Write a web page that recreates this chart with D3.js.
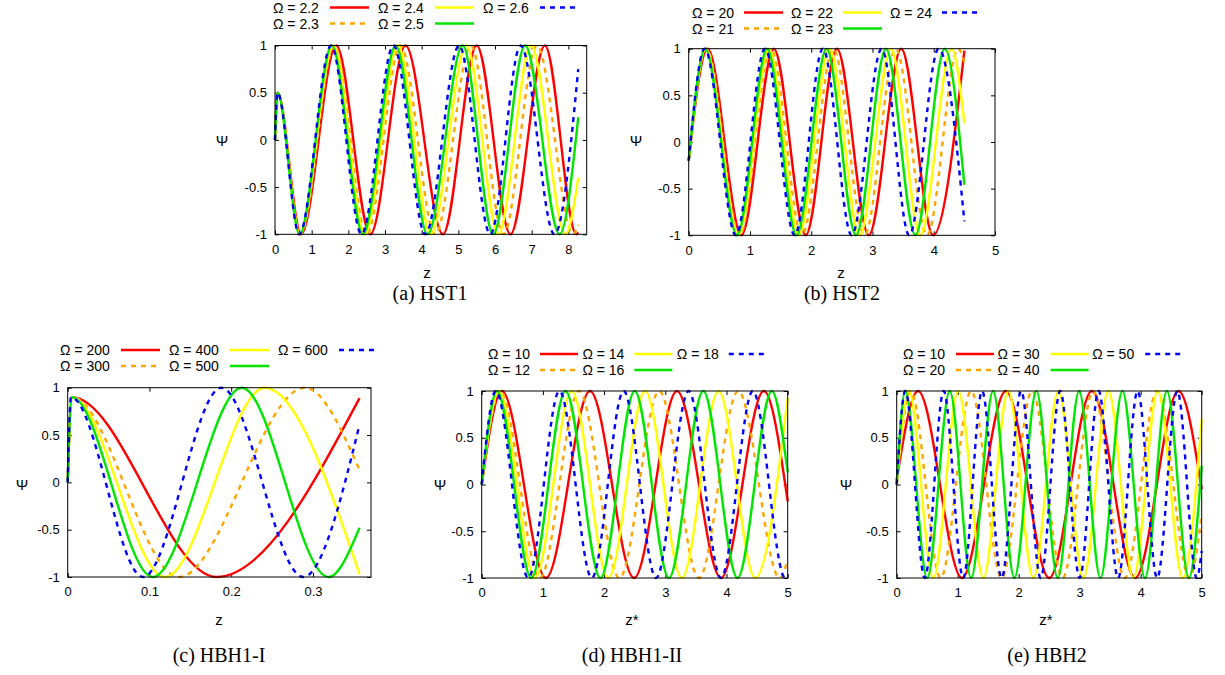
<!DOCTYPE html>
<html>
<head>
<meta charset="utf-8">
<script src="https://cdn.jsdelivr.net/npm/d3@7"></script>
<style>
  body { margin: 0; background: #fff; }
  svg { display: block; }
</style>
</head>
<body>
<svg id="fig" width="1225" height="675"></svg>
<script>
// Oscillating wave function Psi(z) for five frequencies per model.
// Each series lists its start, turning points (crests +1 / troughs -1) and end value.

const psiTicks = [-1, -0.5, 0, 0.5, 1];

// (a) HST1
const hst1Omega = ["2.2", "2.3", "2.4", "2.5", "2.6"];
const hst1ZTicks = [0, 1, 2, 3, 4, 5, 6, 7, 8];
const hst1Psi22 = [[0, 0], [0.07, 0.5], [0.71, -1], [1.67, 1], [2.60, -1], [3.56, 1], [4.58, -1], [5.50, 1], [6.42, -1], [7.36, 1], [8.22, -1], [8.27, -0.98]];
const hst1Psi23 = [[0, 0], [0.07, 0.5], [0.69, -1], [1.62, 1], [2.50, -1], [3.42, 1], [4.37, -1], [5.34, 1], [6.23, -1], [7.14, 1], [8.13, -1], [8.27, -0.9]];
const hst1Psi24 = [[0, 0], [0.07, 0.5], [0.68, -1], [1.59, 1], [2.45, -1], [3.35, 1], [4.25, -1], [5.22, 1], [6.09, -1], [6.98, 1], [7.92, -1], [8.27, -0.4]];
const hst1Psi25 = [[0, 0], [0.07, 0.5], [0.67, -1], [1.55, 1], [2.40, -1], [3.29, 1], [4.16, -1], [5.12, 1], [5.95, -1], [6.82, 1], [7.76, -1], [8.27, 0.24]];
const hst1Psi26 = [[0, 0], [0.07, 0.5], [0.66, -1], [1.53, 1], [2.36, -1], [3.23, 1], [4.10, -1], [5.02, 1], [5.87, -1], [6.70, 1], [7.62, -1], [8.27, 0.75]];

// (b) HST2
const hst2Omega = ["20", "21", "22", "23", "24"];
const hst2ZTicks = [0, 1, 2, 3, 4, 5];
const hst2Psi20 = [[0, -0.2], [0.31, 1], [0.86, -1], [1.39, 1], [1.91, -1], [2.42, 1], [2.94, -1], [3.47, 1], [3.99, -1], [4.5, 0.98]];
const hst2Psi21 = [[0, -0.2], [0.29, 1], [0.83, -1], [1.34, 1], [1.85, -1], [2.36, 1], [2.87, -1], [3.38, 1], [3.89, -1], [4.40, 1], [4.5, 0.85]];
const hst2Psi22 = [[0, -0.2], [0.28, 1], [0.81, -1], [1.31, 1], [1.80, -1], [2.30, 1], [2.79, -1], [3.30, 1], [3.78, -1], [4.29, 1], [4.5, 0.2]];
const hst2Psi23 = [[0, -0.2], [0.27, 1], [0.79, -1], [1.28, 1], [1.76, -1], [2.25, 1], [2.73, -1], [3.22, 1], [3.70, -1], [4.18, 1], [4.5, -0.46]];
const hst2Psi24 = [[0, -0.2], [0.26, 1], [0.77, -1], [1.245, 1], [1.73, -1], [2.19, 1], [2.66, -1], [3.15, 1], [3.60, -1], [4.08, 1], [4.5, -0.85]];

// (c) HBH1-I
const hbh1iOmega = ["200", "300", "400", "500", "600"];
const hbh1iZTicks = [0, 0.1, 0.2, 0.3];
const hbh1iPsi200 = [[0, 0], [0.005, 0.9], [0.182, -1], [0.357, 0.89]];
const hbh1iPsi300 = [[0, 0], [0.005, 0.9], [0.136, -1], [0.290, 1], [0.357, 0.13]];
const hbh1iPsi400 = [[0, 0], [0.005, 0.9], [0.119, -1], [0.241, 1], [0.357, -0.97]];
const hbh1iPsi500 = [[0, 0], [0.005, 0.9], [0.104, -1], [0.213, 1], [0.319, -1], [0.357, -0.48]];
const hbh1iPsi600 = [[0, 0], [0.004, 0.9], [0.092, -1], [0.188, 1], [0.288, -1], [0.357, 0.61]];

// (d) HBH1-II
const hbh1iiOmega = ["10", "12", "14", "16", "18"];
const hbh1iiZTicks = [0, 1, 2, 3, 4, 5];
const hbh1iiPsi10 = [[0, 0], [0.33, 1], [1.05, -1], [1.77, 1], [2.49, -1], [3.19, 1], [3.91, -1], [4.61, 1], [5, -0.18]];
const hbh1iiPsi12 = [[0, 0], [0.30, 1], [0.95, -1], [1.59, 1], [2.25, -1], [2.90, 1], [3.55, -1], [4.19, 1], [4.87, -1], [5, -0.8]];
const hbh1iiPsi14 = [[0, 0], [0.28, 1], [0.87, -1], [1.47, 1], [2.07, -1], [2.67, 1], [3.27, -1], [3.87, 1], [4.47, -1], [5, 0.93]];
const hbh1iiPsi16 = [[0, 0], [0.25, 1], [0.81, -1], [1.37, 1], [1.94, -1], [2.50, 1], [3.06, -1], [3.62, 1], [4.18, -1], [4.74, 1], [5, 0.13]];
const hbh1iiPsi18 = [[0, 0], [0.23, 1], [0.76, -1], [1.27, 1], [1.80, -1], [2.32, 1], [2.85, -1], [3.38, 1], [3.91, -1], [4.43, 1], [4.96, -1], [5, -0.98]];

// (e) HBH2
const hbh2Omega = ["10", "20", "30", "40", "50"];
const hbh2ZTicks = [0, 1, 2, 3, 4, 5];
const hbh2Psi10 = [[0, 0.05], [0.35, 1], [1.07, -1], [1.79, 1], [2.50, -1], [3.20, 1], [3.91, -1], [4.62, 1], [5, -0.05]];
const hbh2Psi20 = [[0, 0], [0.23, 1], [0.72, -1], [1.22, 1], [1.72, -1], [2.22, 1], [2.72, -1], [3.22, 1], [3.74, -1], [4.27, 1], [4.80, -1], [5, -0.31]];
const hbh2Psi30 = [[0, 0], [0.20, 1], [0.60, -1], [1.01, 1], [1.42, -1], [1.83, 1], [2.24, -1], [2.65, 1], [3.06, -1], [3.47, 1], [3.88, -1], [4.28, 1], [4.69, -1], [5, 0.7]];
const hbh2Psi40 = [[0, 0], [0.14, 1], [0.50, -1], [0.87, 1], [1.22, -1], [1.58, 1], [1.93, -1], [2.29, 1], [2.64, -1], [2.99, 1], [3.34, -1], [3.70, 1], [4.07, -1], [4.43, 1], [4.79, -1], [5, 0.2]];
const hbh2Psi50 = [[0, 0], [0.14, 1], [0.46, -1], [0.77, 1], [1.09, -1], [1.40, 1], [1.72, -1], [2.04, 1], [2.36, -1], [2.68, 1], [3.00, -1], [3.31, 1], [3.63, -1], [3.95, 1], [4.27, -1], [4.60, 1], [4.92, -1], [5, -0.71]];

// Line styles, in order of increasing frequency
const lineColors = ["#ff0000", "#ffa500", "#ffff00", "#00e600", "#0000ff"];
const lineDashes = [null, "5,5", null, null, "5,5"];

const svg = d3.select("#fig");
const SANS = "'Liberation Sans', Arial, Helvetica, sans-serif";
const SERIF = "'Liberation Serif', 'Times New Roman', serif";

const panels = [
  {
    caption: "(a) HST1", xLabel: "z", omega: hst1Omega, zTicks: hst1ZTicks, zMax: 8.5,
    series: [hst1Psi22, hst1Psi23, hst1Psi24, hst1Psi25, hst1Psi26],
    box: { left: 275, right: 586.7, top: 45.5, bottom: 234.3 },
    psiPos: [222, 140], zPos: [427, 272], capPos: [430, 293],
    legend: { x: 273, y: 7.5, dy: 16, col: 105, lineOff: 57, lineLen: 39 }
  },
  {
    caption: "(b) HST2", xLabel: "z", omega: hst2Omega, zTicks: hst2ZTicks, zMax: 5,
    series: [hst2Psi20, hst2Psi21, hst2Psi22, hst2Psi23, hst2Psi24],
    box: { left: 688.7, right: 995, top: 48.7, bottom: 235.3 },
    psiPos: [636, 140], zPos: [841, 272], capPos: [842, 293],
    legend: { x: 692, y: 12.5, dy: 16, col: 99, lineOff: 52, lineLen: 39 }
  },
  {
    caption: "(c) HBH1-I", xLabel: "z", omega: hbh1iOmega, zTicks: hbh1iZTicks, zMax: 0.371,
    series: [hbh1iPsi200, hbh1iPsi300, hbh1iPsi400, hbh1iPsi500, hbh1iPsi600],
    box: { left: 67.7, right: 371, top: 387.7, bottom: 577 },
    psiPos: [22, 484], zPos: [219, 619], capPos: [219, 655],
    legend: { x: 60, y: 350, dy: 16, col: 109, lineOff: 61, lineLen: 39 }
  },
  {
    caption: "(d) HBH1-II", xLabel: "z*", omega: hbh1iiOmega, zTicks: hbh1iiZTicks, zMax: 5,
    series: [hbh1iiPsi10, hbh1iiPsi12, hbh1iiPsi14, hbh1iiPsi16, hbh1iiPsi18],
    box: { left: 481.7, right: 787.7, top: 391, bottom: 578 },
    psiPos: [440, 484], zPos: [632, 619], capPos: [632, 655],
    legend: { x: 488, y: 354, dy: 16, col: 94.4, lineOff: 52, lineLen: 38 }
  },
  {
    caption: "(e) HBH2", xLabel: "z*", omega: hbh2Omega, zTicks: hbh2ZTicks, zMax: 5,
    series: [hbh2Psi10, hbh2Psi20, hbh2Psi30, hbh2Psi40, hbh2Psi50],
    box: { left: 896.7, right: 1201.7, top: 391, bottom: 578 },
    psiPos: [846, 484], zPos: [1046, 619], capPos: [1047, 655],
    legend: { x: 903, y: 354, dy: 16, col: 94.6, lineOff: 53, lineLen: 38 }
  }
];

function styleAxis(sel) {
  sel.select(".domain").remove();
  sel.selectAll(".tick line").attr("stroke", "#000").attr("stroke-width", 1);
  sel.selectAll(".tick text")
    .attr("fill", "#000")
    .attr("font-family", SANS)
    .attr("font-size", 13);
}

function drawPanel(p) {
  const b = p.box;
  const g = svg.append("g");
  const x = d3.scaleLinear().domain([0, p.zMax]).range([b.left, b.right]);
  const y = d3.scaleLinear().domain([-1, 1]).range([b.bottom, b.top]);

  // inward ticks on all four sides, labels on left and bottom
  g.append("g").attr("transform", `translate(${b.left},0)`)
    .call(d3.axisLeft(y).tickValues(psiTicks).tickSize(-4).tickPadding(8).tickFormat(d => String(d)))
    .call(styleAxis);
  g.append("g").attr("transform", `translate(${b.right},0)`)
    .call(d3.axisRight(y).tickValues(psiTicks).tickSize(-4).tickFormat(""))
    .call(styleAxis);
  g.append("g").attr("transform", `translate(0,${b.bottom})`)
    .call(d3.axisBottom(x).tickValues(p.zTicks).tickSize(-4).tickPadding(10).tickFormat(d => String(d)))
    .call(styleAxis);
  g.append("g").attr("transform", `translate(0,${b.top})`)
    .call(d3.axisTop(x).tickValues(p.zTicks).tickSize(-4).tickFormat(""))
    .call(styleAxis);

  // curves
  const line = d3.line()
    .x(d => x(d[0]))
    .y(d => y(d[1]))
    .curve(d3.curveMonotoneX);
  p.series.forEach((s, i) => {
    g.append("path")
      .attr("d", line(s))
      .attr("fill", "none")
      .attr("stroke", lineColors[i])
      .attr("stroke-width", 2.4)
      .attr("stroke-dasharray", lineDashes[i]);
  });

  // frame
  g.append("rect")
    .attr("x", b.left).attr("y", b.top)
    .attr("width", b.right - b.left).attr("height", b.bottom - b.top)
    .attr("fill", "none").attr("stroke", "#000").attr("stroke-width", 1);

  // axis titles
  g.append("text")
    .attr("x", p.psiPos[0]).attr("y", p.psiPos[1])
    .attr("text-anchor", "middle").attr("dominant-baseline", "central")
    .attr("font-family", SANS).attr("font-size", 15)
    .text("Ψ");
  g.append("text")
    .attr("x", p.zPos[0]).attr("y", p.zPos[1])
    .attr("text-anchor", "middle").attr("dominant-baseline", "central")
    .attr("font-family", SANS).attr("font-size", 15)
    .text(p.xLabel);

  // legend: two rows, filled column by column
  const L = p.legend;
  p.omega.forEach((w, i) => {
    const cx = L.x + Math.floor(i / 2) * L.col;
    const cy = L.y + (i % 2) * L.dy;
    g.append("text")
      .attr("x", cx).attr("y", cy)
      .attr("dominant-baseline", "central")
      .attr("font-family", SANS).attr("font-size", 14)
      .text("Ω = " + w);
    g.append("line")
      .attr("x1", cx + L.lineOff).attr("x2", cx + L.lineOff + L.lineLen)
      .attr("y1", cy).attr("y2", cy)
      .attr("stroke", lineColors[i]).attr("stroke-width", 2.4)
      .attr("stroke-dasharray", lineDashes[i]);
  });

  // sub-caption
  g.append("text")
    .attr("x", p.capPos[0]).attr("y", p.capPos[1])
    .attr("text-anchor", "middle").attr("dominant-baseline", "central")
    .attr("font-family", SERIF).attr("font-size", 20)
    .text(p.caption);
}

panels.forEach(drawPanel);
</script>
</body>
</html>
